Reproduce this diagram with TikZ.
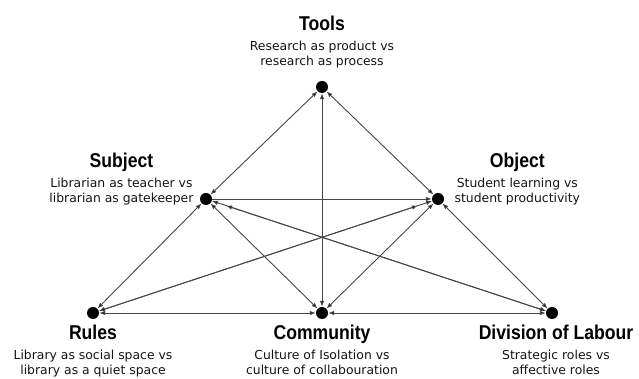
\documentclass[tikz,border=0pt]{standalone}
\usepackage{fontspec}
\setmainfont{DejaVu Sans}
\newfontfamily\headfont[FakeStretch=0.88]{Liberation Sans}
\usepackage{tikz}
\usetikzlibrary{positioning,arrows.meta}

\tikzset{
  dot/.style={circle, fill=black, inner sep=0pt, minimum size=12pt},
  lbl/.style={align=center, inner sep=0pt, text=black!92,
    font=\fontsize{12.4}{15}\selectfont},
  link/.style={draw=black!72, line width=0.9pt}
}
\newcommand{\headline}[1]{{\headfont\bfseries\fontsize{20}{22}\selectfont\color{black}#1}}

\begin{document}
\begin{tikzpicture}[x=1pt, y=1pt, >={Latex[length=6pt,width=4.5pt]}]
    \useasboundingbox (0,0) rectangle (639,379);
    % the six corners of the activity system
    \node[dot] (tools)     at (322,292) {};
    \node[dot] (subject)   at (206,180) {};
    \node[dot] (object)    at (438,180) {};
    \node[dot] (rules)     at (93,66)   {};
    \node[dot] (community) at (322,66)  {};
    \node[dot] (labour)    at (552,66)  {};

    % labels
    \node[lbl, above=13pt of tools] (tools_l)
      {\headline{Tools}\\[5pt]Research as product vs\\research as process};
    \node[lbl, above left=-11pt and 8pt of subject] (subject_l)
      {\headline{Subject}\\[5pt]Librarian as teacher vs\\librarian as gatekeeper};
    \node[lbl, above right=-11pt and 12pt of object] (object_l)
      {\headline{Object}\\[5pt]Student learning vs\\student productivity};
    \node[lbl, below=6pt of rules] (rules_l)
      {\headline{Rules}\\[5pt]Library as social space vs\\library as a quiet space};
    \node[lbl, below=6pt of community] (community_l)
      {\headline{Community}\\[5pt]Culture of Isolation vs\\culture of collabouration};
    \node[lbl, below=6pt of labour, xshift=4pt] (labour_l)
      {\headline{Division of Labour}\\[5pt]Strategic roles vs\\affective roles};

    \path[link, <->]
    (subject) edge (tools)
    (object) edge (tools)
    (community) edge (tools)
    (subject) edge (rules)
    (subject) edge (community)
    (object) edge (community)
    (object) edge (labour)
    (rules) edge (community)
    (community) edge (labour)
    (object) edge (rules)
    (subject) edge (labour);
    \path[link, ->] (subject) edge (object);
    % the two long diagonals stop short of the upper corners
    \path[link, <->, shorten >=15pt]
    (rules) edge (object)
    (labour) edge (subject);
\end{tikzpicture}
\end{document}
